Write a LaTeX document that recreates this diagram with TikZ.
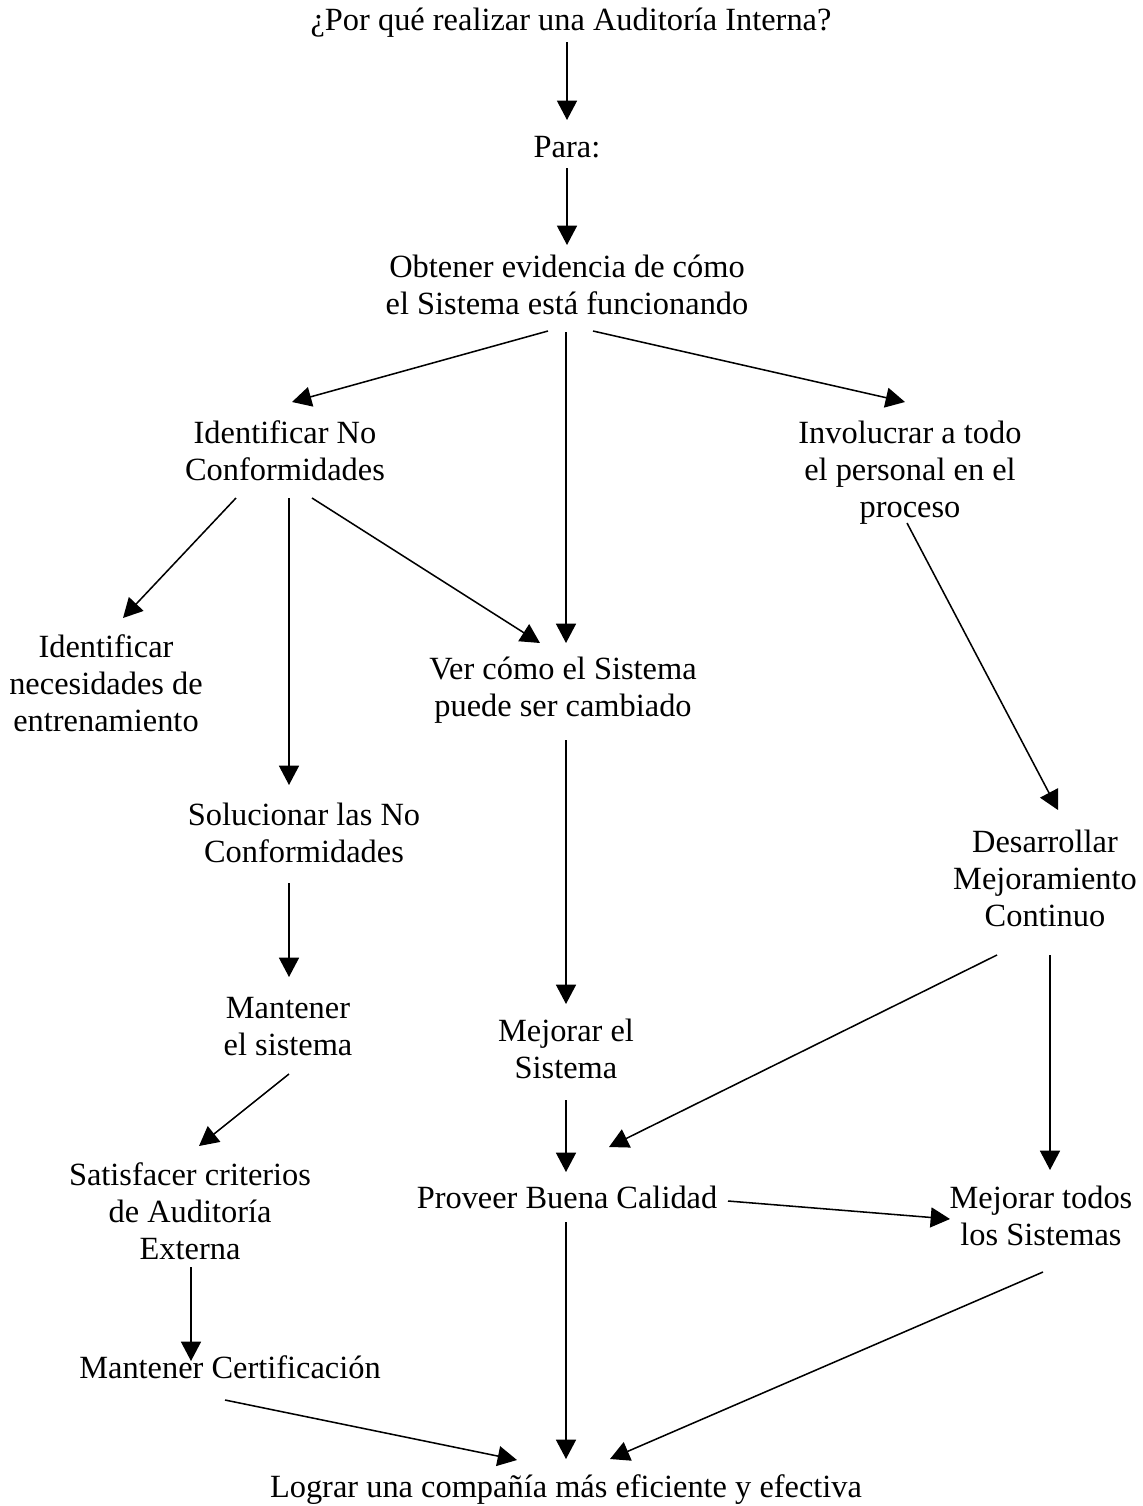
\documentclass[tikz,border=0pt]{standalone}
\usepackage{fontspec}
\setmainfont{Liberation Serif}
\usetikzlibrary{arrows.meta,calc}
\begin{document}
\begin{tikzpicture}[x=0.75pt,y=-0.75pt,
  lbl/.style={anchor=base,align=center,inner sep=0pt,font=\fontsize{24.3}{27.75}\selectfont},
  arr/.style={draw=black,line width=1.15pt,-{Triangle[length=14.5pt,width=15pt]}}]
\useasboundingbox (0,0) rectangle (1142,1506);

% statements (each placed at the baseline of its last line)
\node[lbl] (q)    at (571,31)   {¿Por qué realizar una Auditoría Interna?};
\node[lbl] (para) at (567,157)  {Para:};
\node[lbl] (obt)  at (567,314)  {Obtener evidencia de cómo\\el Sistema está funcionando};
\node[lbl] (idnc) at (285,480)  {Identificar No\\Conformidades};
\node[lbl] (inv)  at (910,517)  {Involucrar a todo\\el personal en el\\proceso};
\node[lbl] (nec)  at (106,731)  {Identificar\\necesidades de\\entrenamiento};
\node[lbl] (ver)  at (563,716)  {Ver cómo el Sistema\\puede ser cambiado};
\node[lbl] (sol)  at (304,862)  {Solucionar las No\\Conformidades};
\node[lbl] (des)  at (1045,926) {Desarrollar\\Mejoramiento\\Continuo};
\node[lbl] (man)  at (288,1055) {Mantener\\el sistema};
\node[lbl] (mej)  at (566,1078) {Mejorar el\\Sistema};
\node[lbl] (sat)  at (190,1259) {Satisfacer criterios\\de Auditoría\\Externa};
\node[lbl] (pro)  at (567,1208) {Proveer Buena Calidad};
\node[lbl] (mto)  at (1041,1245) {Mejorar todos\\los Sistemas};
\node[lbl] (cert) at (230,1378) {Mantener Certificación};
\node[lbl] (log)  at (566,1497) {Lograr una compañía más eficiente y efectiva};

% connectors
\draw[arr] ($(q.base)+(-4,11)$)     -- ($(para.base)+(0,-37)$);
\draw[arr] ($(para.base)+(0,11)$)   -- ($(obt.base)+(0,-69)$);
\draw[arr] ($(obt.base)+(-19,17)$)  -- ($(idnc.base)+(7,-78)$);
\draw[arr] ($(obt.base)+(-1,18)$)   -- ($(ver.base)+(3,-73)$);
\draw[arr] ($(obt.base)+(26,17)$)   -- ($(inv.base)+(-5,-115)$);
\draw[arr] ($(idnc.base)+(-49,18)$) -- ($(nec.base)+(17,-113)$);
\draw[arr] ($(idnc.base)+(4,18)$)   -- ($(sol.base)+(-15,-77)$);
\draw[arr] ($(idnc.base)+(27,18)$)  -- ($(ver.base)+(-23,-73)$);
\draw[arr] ($(inv.base)+(-3,6)$)    -- ($(des.base)+(13,-116)$);
\draw[arr] ($(ver.base)+(3,24)$)    -- ($(mej.base)+(0,-74)$);
\draw[arr] ($(sol.base)+(-15,21)$)  -- ($(man.base)+(1,-78)$);
\draw[arr] ($(man.base)+(1,19)$)    -- ($(sat.base)+(9,-113)$);
\draw[arr] ($(mej.base)+(0,22)$)    -- ($(pro.base)+(-1,-36)$);
\draw[arr] ($(des.base)+(-48,29)$)  -- ($(pro.base)+(42,-61)$);
\draw[arr] ($(des.base)+(5,29)$)    -- ($(mto.base)+(9,-75)$);
\draw[arr] ($(pro.base)+(161,-7)$)  -- ($(mto.base)+(-91,-26)$);
\draw[arr] ($(sat.base)+(1,8)$)     -- ($(cert.base)+(-39,-17)$);
\draw[arr] ($(cert.base)+(-5,22)$)  -- ($(log.base)+(-49,-37)$);
\draw[arr] ($(pro.base)+(-1,14)$)   -- ($(log.base)+(0,-38)$);
\draw[arr] ($(mto.base)+(2,27)$)    -- ($(log.base)+(44,-38)$);
\end{tikzpicture}
\end{document}
